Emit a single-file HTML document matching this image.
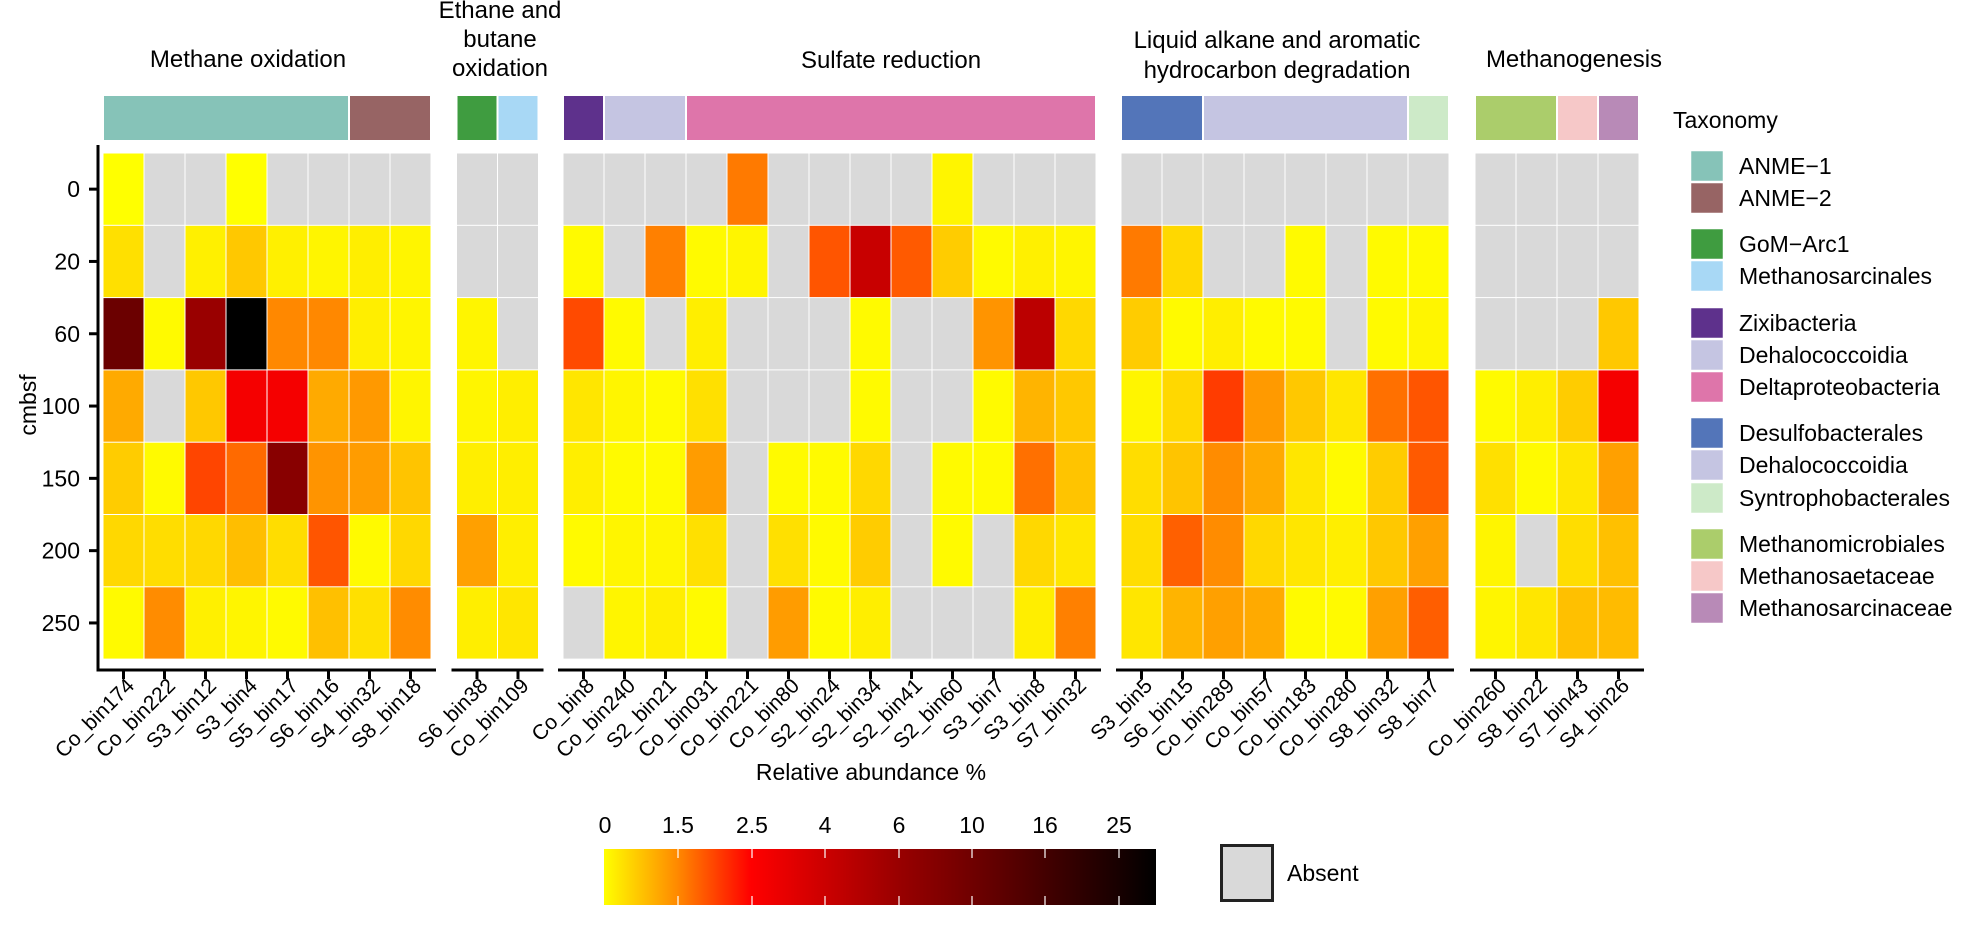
<!DOCTYPE html>
<html><head><meta charset="utf-8"><style>
html,body{margin:0;padding:0;background:#fff;}
svg{display:block;font-family:"Liberation Sans",Arial,sans-serif;}
</style></head><body>
<svg id="s" width="1969" height="936" viewBox="0 0 1969 936" xmlns="http://www.w3.org/2000/svg">
<defs>
<linearGradient id="cb" x1="0" x2="1" y1="0" y2="0">
<stop offset="0" stop-color="#ffff00"/><stop offset="0.132" stop-color="#ff8a00"/>
<stop offset="0.266" stop-color="#ff0000"/><stop offset="0.399" stop-color="#cc0000"/>
<stop offset="0.533" stop-color="#990000"/><stop offset="0.665" stop-color="#700000"/>
<stop offset="0.797" stop-color="#440000"/><stop offset="0.931" stop-color="#180000"/>
<stop offset="1" stop-color="#000000"/></linearGradient>
</defs>
<g id="cells"></g>
<g font-size="24" fill="#000">
<text x="248" y="67" text-anchor="middle">Methane oxidation</text>
<text x="500" y="18" text-anchor="middle">Ethane and</text>
<text x="500" y="47" text-anchor="middle">butane</text>
<text x="500" y="76" text-anchor="middle">oxidation</text>
<text x="891" y="68" text-anchor="middle">Sulfate reduction</text>
<text x="1277" y="48" text-anchor="middle">Liquid alkane and aromatic</text>
<text x="1277" y="78" text-anchor="middle">hydrocarbon degradation</text>
<text x="1574" y="67" text-anchor="middle">Methanogenesis</text>
<text x="1673" y="128" font-size="23">Taxonomy</text>
<text x="871" y="780" text-anchor="middle" font-size="23">Relative abundance %</text>
<text x="1287" y="881" font-size="23">Absent</text>
<text transform="translate(36,405) rotate(-90)" text-anchor="middle" font-size="23">cmbsf</text>
</g>
<rect x="604" y="849" width="552" height="56" fill="url(#cb)"/>
<g id="cbt"></g>
<rect x="1221.5" y="845.5" width="51" height="55" fill="#d9d9d9" stroke="#222" stroke-width="3"/>
</svg>
<script>
var G='#d9d9d9',Y='#ffff00';
var panels=[
{x:103,n:8,labels:['Co_bin174','Co_bin222','S3_bin12','S3_bin4','S5_bin17','S6_bin16','S4_bin32','S8_bin18'],
tax:[[0,6,'#86c3b8'],[6,8,'#976464']],
d:[[Y,G,G,Y,G,G,G,G],
['#ffe000',G,'#fff000','#ffc800','#fff000','#fff500','#ffee00','#fff500'],
['#6b0000','#fffa00','#990000','#000000','#ff8800','#ff8800','#ffee00','#fff500'],
['#ffaa00',G,'#ffc800','#f50000','#f50000','#ffaa00','#ff9900','#fff500'],
['#ffcc00','#fffa00','#ff4500','#ff6a00','#880000','#ff9400','#ff9c00','#ffc400'],
['#ffd800','#ffdd00','#ffd800','#ffbe00','#ffdd00','#ff5500','#fffa00','#ffd800'],
['#fffa00','#ff8c00','#fff000','#fff500','#fffa00','#ffc000','#ffe000','#ff8c00']]},
{x:456.5,n:2,labels:['S6_bin38','Co_bin109'],tax:[[0,1,'#3f9c40'],[1,2,'#a8d8f5']],
d:[[G,G],[G,G],['#fff500',G],['#fff500','#ffee00'],['#ffee00','#ffee00'],['#ffa000','#ffee00'],['#ffee00','#ffe600']]},
{x:563,n:13,labels:['Co_bin8','Co_bin240','S2_bin21','Co_bin031','Co_bin221','Co_bin80','S2_bin24','S2_bin34','S2_bin41','S2_bin60','S3_bin7','S3_bin8','S7_bin32'],
tax:[[0,1,'#5e318c'],[1,3,'#c5c5e2'],[3,13,'#de75aa']],
d:[[G,G,G,G,'#ff7a00',G,G,G,G,'#fff500',G,G,G],
['#fffa00',G,'#ff8000','#fffa00','#fff500',G,'#ff5500','#c80000','#ff5a00','#ffcc00','#fffa00','#fff000','#fff500'],
['#ff4a00','#fffa00',G,'#ffee00',G,G,G,'#fffa00',G,G,'#ff9400','#bb0000','#ffd800'],
['#ffe600','#fff500','#fffa00','#ffe000',G,G,G,'#fffa00',G,G,'#fffa00','#ffb400','#ffc800'],
['#ffee00','#fffa00','#fffa00','#ff9c00',G,'#fffa00','#fffa00','#ffd800',G,'#fffa00','#fffa00','#ff7000','#ffc400'],
['#fffa00','#fff500','#fff500','#ffe000',G,'#ffe000','#fffa00','#ffcc00',G,'#fffa00',G,'#ffd800','#ffe600'],
[G,'#fff500','#ffee00','#fffa00',G,'#ff9c00','#fffa00','#ffee00',G,G,G,'#ffee00','#ff8000']]},
{x:1121,n:8,labels:['S3_bin5','S6_bin15','Co_bin289','Co_bin57','Co_bin183','Co_bin280','S8_bin32','S8_bin7'],
tax:[[0,2,'#5375b9'],[2,7,'#c5c5e2'],[7,8,'#cdeac8']],
d:[[G,G,G,G,G,G,G,G],
['#ff7a00','#ffd800',G,G,'#fffa00',G,'#fffa00','#fffa00'],
['#ffcc00','#fffa00','#ffee00','#fffa00','#fffa00',G,'#fffa00','#fff500'],
['#fff500','#ffd800','#ff3c00','#ff9a00','#ffc800','#ffe600','#ff7000','#ff5500'],
['#ffdd00','#ffc400','#ff8c00','#ffaa00','#ffe600','#fffa00','#ffcc00','#ff5a00'],
['#ffdd00','#ff6000','#ff8c00','#ffd800','#ffe600','#ffee00','#ffc800','#ffa000'],
['#ffe600','#ffb400','#ffa000','#ffaa00','#fffa00','#fffa00','#ffa000','#ff5e00']]},
{x:1475,n:4,labels:['Co_bin260','S8_bin22','S7_bin43','S4_bin26'],
tax:[[0,2,'#abcd6b'],[2,3,'#f6c8c8'],[3,4,'#b88ab7']],
d:[[G,G,G,G],[G,G,G,G],[G,G,G,'#ffc800'],['#fffa00','#ffee00','#ffcc00','#f50000'],
['#ffe000','#fffa00','#ffe600','#ffa000'],['#fff500',G,'#ffdd00','#ffc000'],['#fff500','#ffe600','#ffc000','#ffbb00']]}];
var CW=41,RT=153,RH=72.3,h='';
panels.forEach(function(p){
 for(var r=0;r<7;r++)for(var c=0;c<p.n;c++){
  h+='<rect x="'+(p.x+c*CW+0.5)+'" y="'+(RT+r*RH+0.5)+'" width="'+(CW-1)+'" height="'+(RH-1)+'" fill="'+p.d[r][c]+'"/>';}
 p.tax.forEach(function(t){h+='<rect x="'+(p.x+t[0]*CW+1)+'" y="96" width="'+((t[1]-t[0])*CW-2)+'" height="44" fill="'+t[2]+'"/>';});
 var x0=p.x-5,x1=p.x+p.n*CW+5;
 h+='<line x1="'+x0+'" y1="670" x2="'+x1+'" y2="670" stroke="#000" stroke-width="3"/>';
 p.labels.forEach(function(l,c){var cx=p.x+c*CW+CW/2;
  h+='<line x1="'+cx+'" y1="670" x2="'+cx+'" y2="679" stroke="#000" stroke-width="3"/>';
  h+='<text font-size="21" text-anchor="end" transform="translate('+(cx+12)+',687) rotate(-45)">'+l+'</text>';});
});
h+='<line x1="98" y1="145" x2="98" y2="671.5" stroke="#000" stroke-width="3"/>';
['0','20','60','100','150','200','250'].forEach(function(l,r){var cy=RT+r*RH+RH/2;
 h+='<line x1="89" y1="'+cy+'" x2="98" y2="'+cy+'" stroke="#000" stroke-width="3"/>';
 h+='<text font-size="23" text-anchor="end" x="80" y="'+(cy+8)+'">'+l+'</text>';});
var leg=[['ANME\u22121','#86c3b8',151],['ANME\u22122','#976464',183],['GoM\u2212Arc1','#3f9c40',229],['Methanosarcinales','#a8d8f5',261],
['Zixibacteria','#5e318c',308],['Dehalococcoidia','#c5c5e2',340],['Deltaproteobacteria','#de75aa',372],
['Desulfobacterales','#5375b9',418],['Dehalococcoidia','#c5c5e2',450],['Syntrophobacterales','#cdeac8',483],
['Methanomicrobiales','#abcd6b',529],['Methanosaetaceae','#f6c8c8',561],['Methanosarcinaceae','#b88ab7',593]];
leg.forEach(function(e){h+='<rect x="1691" y="'+e[2]+'" width="32" height="30" fill="'+e[1]+'" stroke="#fff" stroke-width="0.5"/>';
 h+='<text font-size="23" x="1739" y="'+(e[2]+23)+'">'+e[0]+'</text>';});
document.getElementById('cells').innerHTML=h;
var t='',tx=[605,678,752,825,899,972,1045,1119],tl=['0','1.5','2.5','4','6','10','16','25'];
tx.forEach(function(x,i){t+='<text font-size="23" text-anchor="middle" x="'+x+'" y="833">'+tl[i]+'</text>';
 if(i>0)t+='<line x1="'+x+'" y1="849" x2="'+x+'" y2="858" stroke="#fff" stroke-width="1.5" opacity="0.8"/><line x1="'+x+'" y1="896" x2="'+x+'" y2="905" stroke="#fff" stroke-width="1.5" opacity="0.8"/>';});
document.getElementById('cbt').innerHTML=t;
</script>
</body></html>
